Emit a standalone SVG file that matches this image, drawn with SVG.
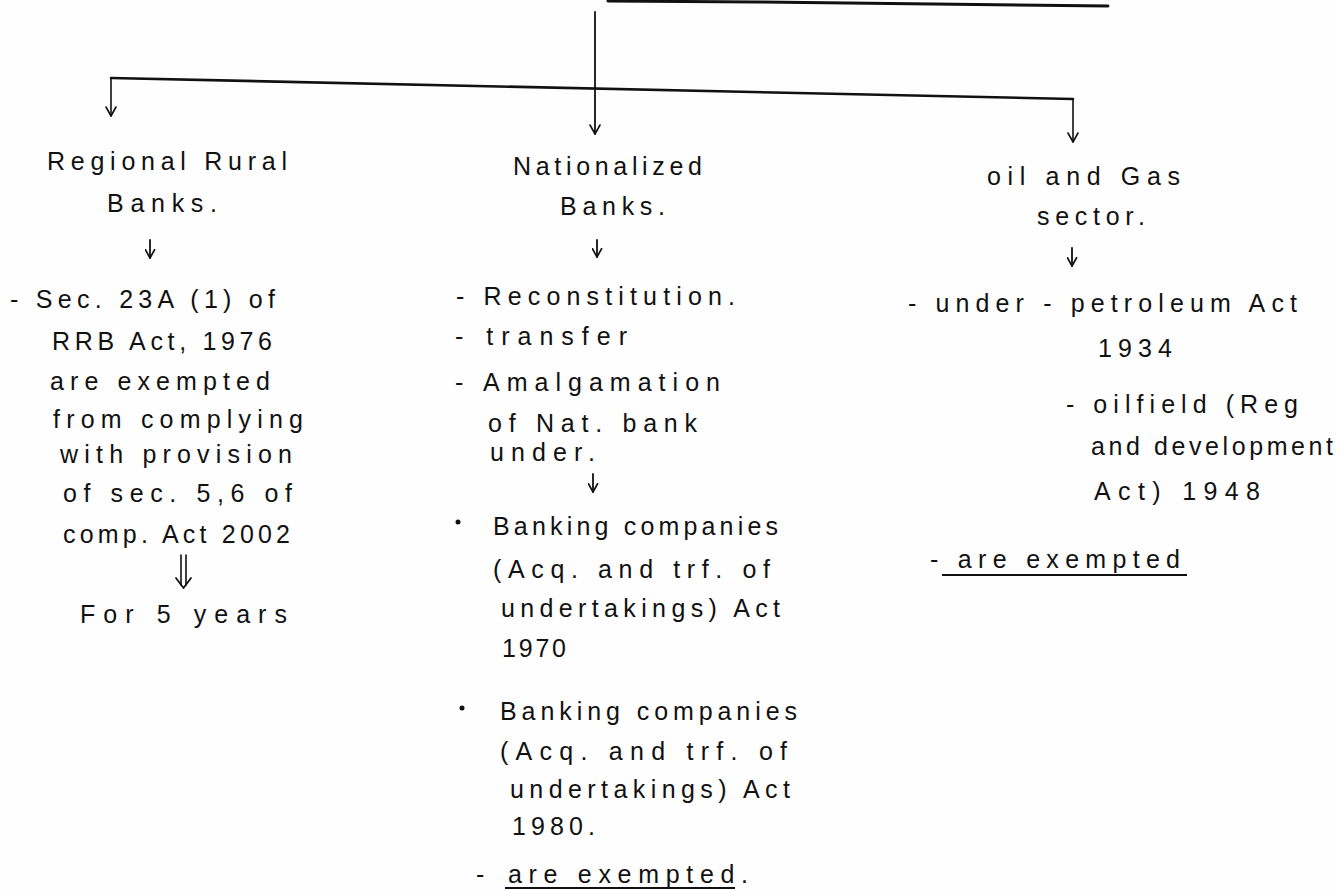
<svg xmlns="http://www.w3.org/2000/svg" width="1337" height="890" viewBox="0 0 1337 890">
<defs>
<style>
text{font-family:"Liberation Sans","DejaVu Sans",sans-serif;font-size:25px;fill:#111;}
.ln{stroke:#111;fill:none;stroke-linecap:round;stroke-linejoin:round;}
.ul{stroke:#111;stroke-width:2.2;}
</style>
<marker id="ah" viewBox="0 0 12 12" refX="10" refY="6" markerWidth="12" markerHeight="12" markerUnits="userSpaceOnUse" orient="auto">
<path d="M1,1 L10,6 L1,11" fill="none" stroke="#111" stroke-width="1.6" stroke-linecap="round" stroke-linejoin="round"/>
</marker>
<marker id="ahs" viewBox="0 0 12 12" refX="10" refY="6" markerWidth="11" markerHeight="11" markerUnits="userSpaceOnUse" orient="auto">
<path d="M1,1 L10,6 L1,11" fill="none" stroke="#111" stroke-width="1.8" stroke-linecap="round" stroke-linejoin="round"/>
</marker>
</defs>
<rect width="1337" height="890" fill="#fefefe"/>
<g id="connectors">
<path class="ln" d="M608,1 L758,2 L1108,6" stroke-width="3"/>
<path class="ln" d="M595,12 V134" stroke-width="1.8" marker-end="url(#ah)"/>
<path class="ln" d="M111,78 L1073,99" stroke-width="2.6"/>
<path class="ln" d="M111,78 V116" stroke-width="1.6" marker-end="url(#ah)"/>
<path class="ln" d="M1073,99 V142" stroke-width="1.6" marker-end="url(#ah)"/>
<path class="ln" d="M150,240 V258" stroke-width="1.8" marker-end="url(#ahs)"/>
<path class="ln" d="M597,240 V257" stroke-width="1.8" marker-end="url(#ahs)"/>
<path class="ln" d="M1072,248 V266" stroke-width="1.8" marker-end="url(#ahs)"/>
<path class="ln" d="M593,474 V492" stroke-width="1.8" marker-end="url(#ahs)"/>
<path class="ln" d="M181,555 V585 M186,555 V585" stroke-width="1.6"/>
<path class="ln" d="M176,578 L183.5,588 L191,578" stroke-width="1.8"/>
</g>
<g id="rrb">
<text x="47" y="170" textLength="240" lengthAdjust="spacing">Regional Rural</text>
<text x="107" y="212" textLength="110" lengthAdjust="spacing">Banks.</text>
<text x="10" y="308" textLength="265" lengthAdjust="spacing">-  Sec. 23A (1) of</text>
<text x="52" y="350" textLength="220" lengthAdjust="spacing">RRB Act, 1976</text>
<text x="50" y="390" textLength="220" lengthAdjust="spacing">are exempted</text>
<text x="53" y="428" textLength="250" lengthAdjust="spacing">from complying</text>
<text x="60" y="463" textLength="232" lengthAdjust="spacing">with provision</text>
<text x="63" y="502" textLength="229" lengthAdjust="spacing">of sec. 5,6 of</text>
<text x="63" y="543" textLength="227" lengthAdjust="spacing">comp. Act 2002</text>
<text x="80" y="623" textLength="207" lengthAdjust="spacing">For 5 years</text>
</g>
<g id="nationalized">
<text x="513" y="175" textLength="189" lengthAdjust="spacing">Nationalized</text>
<text x="560" y="215" textLength="105" lengthAdjust="spacing">Banks.</text>
<text x="456" y="305" textLength="279" lengthAdjust="spacing">-  Reconstitution.</text>
<text x="455" y="345" textLength="172" lengthAdjust="spacing">-  transfer</text>
<text x="455" y="391" textLength="265" lengthAdjust="spacing">-  Amalgamation</text>
<text x="488" y="432" textLength="209" lengthAdjust="spacing">of Nat. bank</text>
<text x="490" y="461" textLength="105" lengthAdjust="spacing">under.</text>
<circle cx="458" cy="522" r="2.5" fill="#111"/>
<text x="493" y="535" textLength="285" lengthAdjust="spacing">Banking companies</text>
<text x="493" y="578" textLength="277" lengthAdjust="spacing">(Acq. and trf. of</text>
<text x="501" y="617" textLength="279" lengthAdjust="spacing">undertakings) Act</text>
<text x="502" y="657" textLength="64" lengthAdjust="spacing">1970</text>
<circle cx="462" cy="708" r="2.5" fill="#111"/>
<text x="500" y="720" textLength="297" lengthAdjust="spacing">Banking companies</text>
<text x="500" y="760" textLength="287" lengthAdjust="spacing">(Acq. and trf. of</text>
<text x="510" y="798" textLength="280" lengthAdjust="spacing">undertakings) Act</text>
<text x="512" y="835" textLength="83" lengthAdjust="spacing">1980.</text>
<text x="476" y="883" textLength="16">-</text>
<text x="508" y="883" textLength="240" lengthAdjust="spacing">are exempted.</text>
<line class="ul" x1="505" y1="888" x2="735" y2="888"/>
</g>
<g id="oilgas">
<text x="987" y="185" textLength="193" lengthAdjust="spacing">oil and Gas</text>
<text x="1037" y="225" textLength="108" lengthAdjust="spacing">sector.</text>
<text x="908" y="312" textLength="389" lengthAdjust="spacing">-  under  -  petroleum Act</text>
<text x="1098" y="357" textLength="74" lengthAdjust="spacing">1934</text>
<text x="1066" y="413" textLength="232" lengthAdjust="spacing">-  oilfield (Reg</text>
<text x="1091" y="455" textLength="242" lengthAdjust="spacing">and development</text>
<text x="1094" y="500" textLength="166" lengthAdjust="spacing">Act) 1948</text>
<text x="930" y="568" textLength="250" lengthAdjust="spacing">- are exempted</text>
<line class="ul" x1="942" y1="575" x2="1187" y2="575"/>
</g>
</svg>
